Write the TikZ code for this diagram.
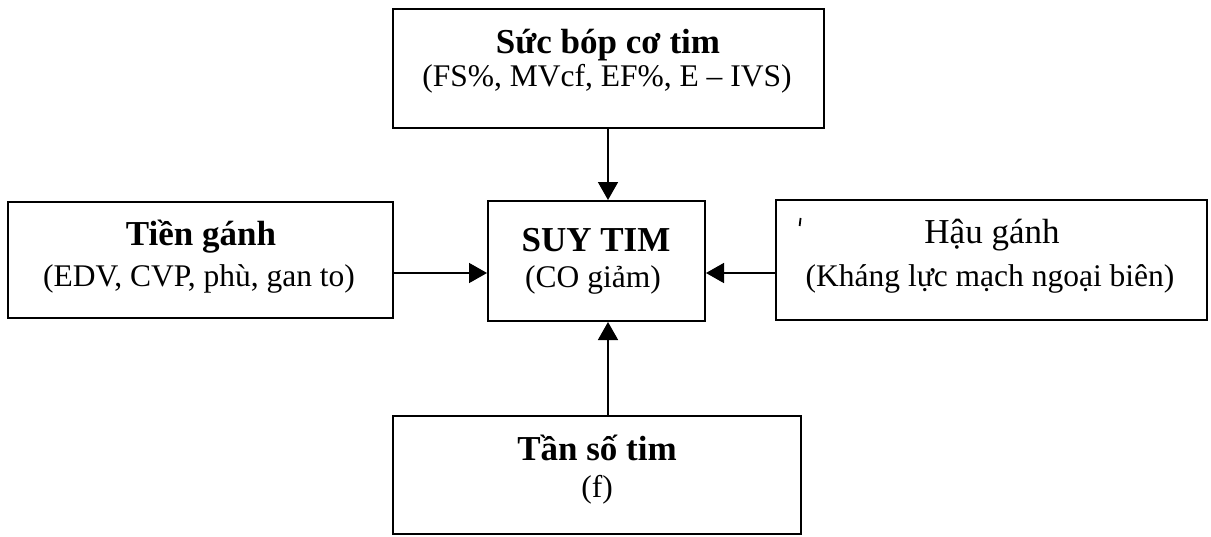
\documentclass[tikz,border=0pt]{standalone}
\usepackage{fontspec}
\setmainfont{Liberation Serif}
\usetikzlibrary{arrows.meta}
\begin{document}
\begin{tikzpicture}[x=0.5pt,y=-0.5pt,
  box/.style={draw, line width=1pt, rectangle, inner sep=0pt},
  ttl/.style={anchor=base, inner sep=0pt, font=\fontsize{17.5}{21}\selectfont\bfseries},
  ttlr/.style={anchor=base, inner sep=0pt, font=\fontsize{17.5}{21}\selectfont},
  sub/.style={anchor=base, inner sep=0pt, font=\fontsize{15.75}{19}\selectfont},
  arr/.style={line width=0.8pt, -{Triangle[length=9pt,width=10pt]}}]
\useasboundingbox (0,0) rectangle (1211,536);
% boxes
\node[box, minimum width=215.5pt, minimum height=59.5pt] (top) at (608.5,68.5) {};
\node[box, minimum width=192.5pt, minimum height=58pt] (left) at (200.5,260) {};
\node[box, minimum width=108.5pt, minimum height=60pt] (center) at (596.5,261) {};
\node[box, minimum width=215.5pt, minimum height=60pt] (right) at (991.5,260) {};
\node[box, minimum width=204pt, minimum height=59pt] (bottom) at (597,475) {};
% texts
\node[ttl] (toptitle) at (608,53) {Sức bóp cơ tim};
\node[sub] (topsub) at (607,86) {(FS\%, MVcf, EF\%, E – IVS)};
\node[ttl] (lefttitle) at (201,245) {Tiền gánh};
\node[sub] (leftsub) at (199,286) {(EDV, CVP, phù, gan to)};
\node[ttl] (centertitle) at (596,251) {SUY TIM};
\node[sub] (centersub) at (593,287) {(CO giảm)};
\node[ttlr] (righttitle) at (992,243) {Hậu gánh};
\node[sub] (rightsub) at (990,286) {(Kháng lực mạch ngoại biên)};
\node[ttl] (bottomtitle) at (597,460) {Tần số tim};
\node[sub] (bottomsub) at (597,497) {(f)};
% stray mark
\draw[line width=0.9pt] (800.6,218) -- (799.6,226);
% connectors
\coordinate (ax) at (608,0);
\coordinate (ay) at (0,273);
\draw[arr] (top.south -| ax) -- (center.north -| ax);
\draw[arr] (bottom.north -| ax) -- (center.south -| ax);
\draw[arr] (left.east |- ay) -- (center.west |- ay);
\draw[arr] (right.west |- ay) -- (center.east |- ay);
\end{tikzpicture}
\end{document}
